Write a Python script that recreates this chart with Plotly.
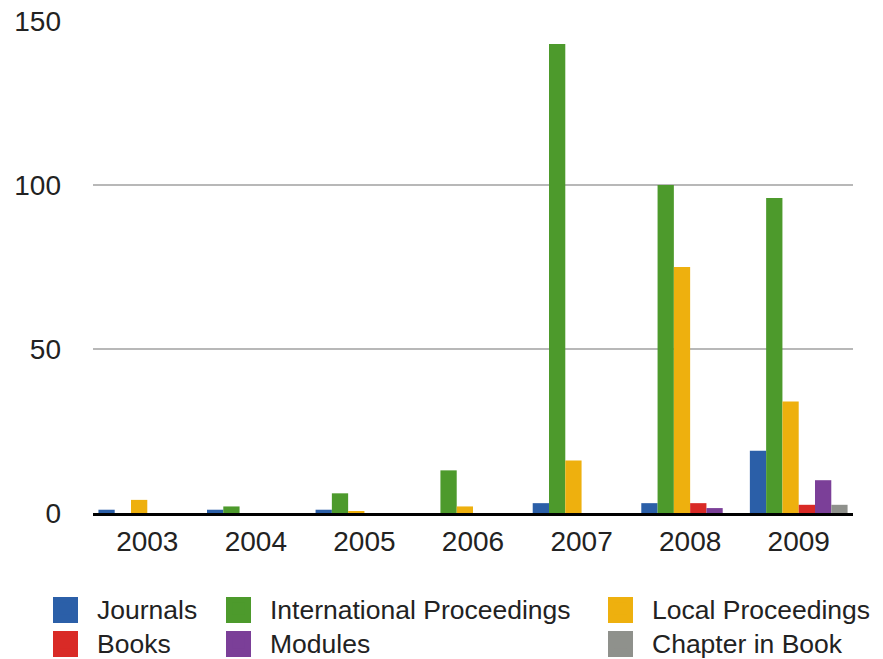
import plotly.graph_objects as go

years = ["2003", "2004", "2005", "2006", "2007", "2008", "2009"]
journals = [1, 1, 1, 0, 3, 3, 19]
international = [0, 2, 6, 13, 143, 100, 96]
local = [4, 0, 0.5, 2, 16, 75, 34]
books = [0, 0, 0, 0, 0, 3, 2.5]
modules = [0, 0, 0, 0, 0, 1.5, 10]
chapter = [0, 0, 0, 0, 0, 0, 2.5]

series_names = ["Journals", "International Proceedings", "Local Proceedings",
                "Books", "Modules", "Chapter in Book"]
series_values = [journals, international, local, books, modules, chapter]
series_colors = ["#2b5fa8", "#4d9a2c", "#eeb00e", "#d92a26", "#7b3f98", "#8f918c"]

FONT = "Liberation Sans, Arial, Helvetica, sans-serif"

# plot area: x 93..853 px, y 21..513 px
def px_x(px):
    return (px - 93) / 760

def px_y(py):
    return (513 - py) / 492

ITEMW = 53
col_left = [34, 207, 589]   # legend left edges in px
row_centers = [610, 644]    # legend row text centres in px
TOP_OFFSET = 25

fig = go.Figure()
legend_layout = {}
for i, (name, vals, color) in enumerate(zip(series_names, series_values, series_colors)):
    lid = "legend" if i == 0 else f"legend{i + 1}"
    fig.add_trace(go.Bar(x=years, y=vals, name=name, marker_color=color,
                         marker_line_width=0, legend=lid, showlegend=True))
    col, row = i % 3, i // 3
    legend_layout[lid] = dict(
        orientation="v", xref="paper", yref="paper",
        xanchor="left", yanchor="top", itemwidth=ITEMW,
        x=px_x(col_left[col]), y=px_y(row_centers[row] - TOP_OFFSET),
        font=dict(family=FONT, size=26.5, color="#222"),
        bgcolor="rgba(0,0,0,0)", itemclick=False)
    # enlarge legend swatch (drawn beneath the legend's own swatch)
    cx = col_left[col] + ITEMW / 2 + 5
    cy = row_centers[row]
    fig.add_shape(type="rect", xref="paper", yref="paper",
                  x0=px_x(cx - 12.5), x1=px_x(cx + 12.5),
                  y0=px_y(cy + 13), y1=px_y(cy - 13),
                  fillcolor=color, line_width=0, layer="above")

fig.update_layout(
    width=883, height=659,
    showlegend=True,
    margin=dict(l=93, r=30, t=21, b=146, autoexpand=False),
    plot_bgcolor="white", paper_bgcolor="white",
    font=dict(family=FONT, size=28, color="#222"),
    barmode="group", bargap=0.1, bargroupgap=0,
    xaxis=dict(showline=True, linecolor="black", linewidth=3, showgrid=False,
               ticks="", ticklabelstandoff=1, tickfont=dict(size=28)),
    yaxis=dict(range=[0, 150], tickvals=[0, 50, 100, 150], showgrid=True,
               gridcolor="#b8b8b8", gridwidth=1.5, zeroline=False,
               ticks="", ticklabelstandoff=31, tickfont=dict(size=28)),
    **legend_layout,
)

fig.write_html("out.html")
